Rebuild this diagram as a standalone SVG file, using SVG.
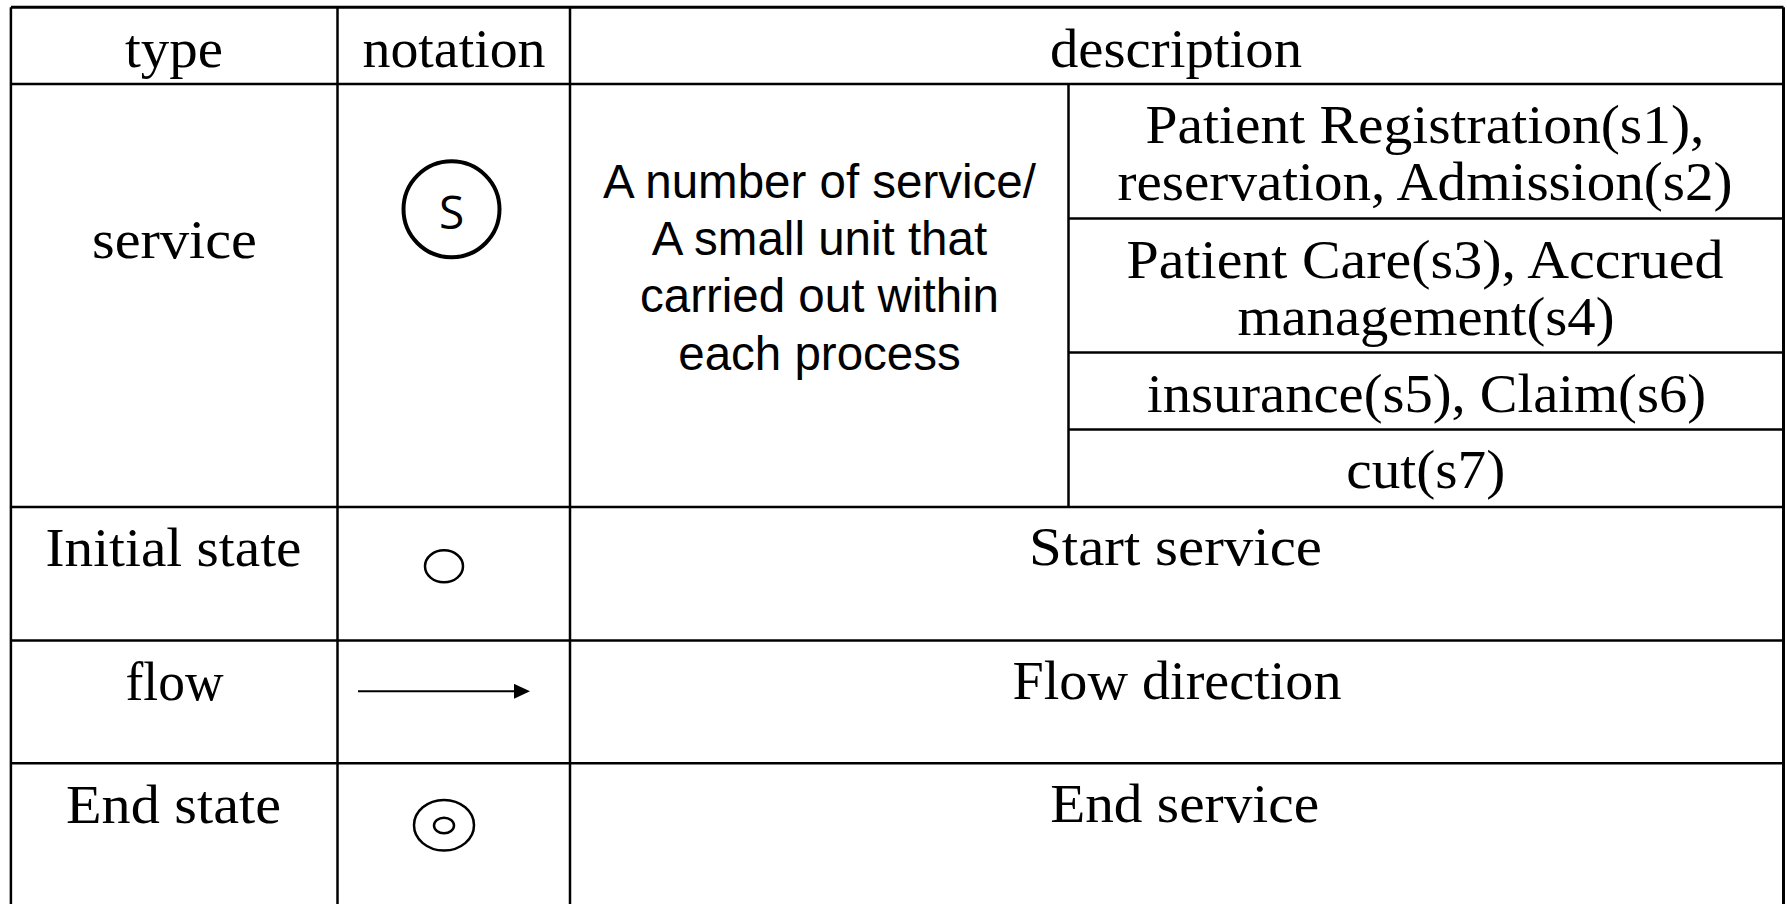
<svg xmlns="http://www.w3.org/2000/svg" width="1787" height="904" viewBox="0 0 1787 904">
  <style>
    .grid line { stroke: #000; stroke-width: 2.5; }
    .grid line.outer { stroke-width: 3; }
    .serif { font-family: "Liberation Serif", "Times New Roman", serif; font-size: 55px; fill: #000; text-anchor: middle; }
    .sans { font-family: "Liberation Sans", Arial, sans-serif; font-size: 47.5px; fill: #000; text-anchor: middle; }
    .glyph { font-family: "Open Sans", "Noto Sans", sans-serif; font-size: 46px; fill: #000; text-anchor: middle; }
    .sym { fill: none; stroke: #000; stroke-width: 2.5; }
    .flow { fill: none; stroke: #000; stroke-width: 2; }
  </style>
  <defs>
    <marker id="arrowhead" markerUnits="userSpaceOnUse" markerWidth="17" markerHeight="16" refX="8" refY="7.5" orient="auto">
      <path d="M0,0 L16,7.5 L0,15 Z" fill="#000"/>
    </marker>
  </defs>

  <rect width="1787" height="904" fill="#fff"/>

  <!-- table ruling -->
  <g id="table-grid" class="grid">
    <line class="outer" x1="10.9" y1="7.3" x2="1783.5" y2="7.3"/>
    <line x1="10.9" y1="7.3" x2="10.9" y2="904"/>
    <line class="outer" x1="1783.5" y1="7.3" x2="1783.5" y2="904"/>
    <line x1="337.5" y1="7.3" x2="337.5" y2="904"/>
    <line x1="570" y1="7.3" x2="570" y2="904"/>
    <line x1="10.9" y1="84" x2="1783.5" y2="84"/>
    <line x1="10.9" y1="507" x2="1783.5" y2="507"/>
    <line x1="10.9" y1="640.5" x2="1783.5" y2="640.5"/>
    <line x1="10.9" y1="763.3" x2="1783.5" y2="763.3"/>
    <line x1="1068.5" y1="84" x2="1068.5" y2="507"/>
    <line x1="1068.5" y1="218.5" x2="1783.5" y2="218.5"/>
    <line x1="1068.5" y1="352.5" x2="1783.5" y2="352.5"/>
    <line x1="1068.5" y1="429.5" x2="1783.5" y2="429.5"/>
  </g>

  <!-- header row -->
  <g id="head-type"><text class="serif" x="174" y="67" textLength="98" lengthAdjust="spacingAndGlyphs">type</text></g>
  <g id="head-notation"><text class="serif" x="454" y="67" textLength="183" lengthAdjust="spacingAndGlyphs">notation</text></g>
  <g id="head-description"><text class="serif" x="1176" y="67" textLength="252" lengthAdjust="spacingAndGlyphs">description</text></g>

  <!-- service row -->
  <g id="service-type"><text class="serif" x="174.5" y="258" textLength="165" lengthAdjust="spacingAndGlyphs">service</text></g>
  <g id="service-notation">
    <circle cx="451.5" cy="209.3" r="48" fill="none" stroke="#000" stroke-width="4"/>
    <text class="glyph" x="451.5" y="229">S</text>
  </g>
  <g id="service-summary">
    <text class="sans" x="819.5" y="197.5">A number of service/</text>
    <text class="sans" x="819.5" y="255">A small unit that</text>
    <text class="sans" x="819.5" y="312">carried out within</text>
    <text class="sans" x="819.5" y="369.5">each process</text>
  </g>
  <g id="service-s1-s2">
    <text class="serif" x="1425" y="143.3" textLength="559" lengthAdjust="spacingAndGlyphs">Patient Registration(s1),</text>
    <text class="serif" x="1425" y="200" textLength="615" lengthAdjust="spacingAndGlyphs">reservation, Admission(s2)</text>
  </g>
  <g id="service-s3-s4">
    <text class="serif" x="1425" y="277.7" textLength="597" lengthAdjust="spacingAndGlyphs">Patient Care(s3), Accrued</text>
    <text class="serif" x="1426" y="335" textLength="377" lengthAdjust="spacingAndGlyphs">management(s4)</text>
  </g>
  <g id="service-s5-s6">
    <text class="serif" x="1426.5" y="411.7" textLength="559" lengthAdjust="spacingAndGlyphs">insurance(s5), Claim(s6)</text>
  </g>
  <g id="service-s7">
    <text class="serif" x="1425.8" y="488" textLength="159" lengthAdjust="spacingAndGlyphs">cut(s7)</text>
  </g>

  <!-- initial state row -->
  <g id="initial-type"><text class="serif" x="173.5" y="566" textLength="256" lengthAdjust="spacingAndGlyphs">Initial state</text></g>
  <g id="initial-notation"><ellipse class="sym" cx="444" cy="566.3" rx="19" ry="16"/></g>
  <g id="initial-description"><text class="serif" x="1175.5" y="565" textLength="293" lengthAdjust="spacingAndGlyphs">Start service</text></g>

  <!-- flow row -->
  <g id="flow-type"><text class="serif" x="174.5" y="700" textLength="98" lengthAdjust="spacingAndGlyphs">flow</text></g>
  <g id="flow-description"><text class="serif" x="1177" y="699.3" textLength="329" lengthAdjust="spacingAndGlyphs">Flow direction</text></g>

  <!-- end state row -->
  <g id="end-type"><text class="serif" x="173.5" y="822.7" textLength="215" lengthAdjust="spacingAndGlyphs">End state</text></g>
  <g id="end-notation">
    <ellipse class="sym" cx="444" cy="825.2" rx="30" ry="25.3"/>
    <ellipse class="sym" cx="444" cy="825.5" rx="10" ry="7.8"/>
  </g>
  <g id="end-description"><text class="serif" x="1184.7" y="821.7" textLength="269" lengthAdjust="spacingAndGlyphs">End service</text></g>

  <!-- flow notation arrow -->
  <g id="connectors">
    <line class="flow" x1="358" y1="691.3" x2="522" y2="691.3" marker-end="url(#arrowhead)"/>
  </g>
</svg>
